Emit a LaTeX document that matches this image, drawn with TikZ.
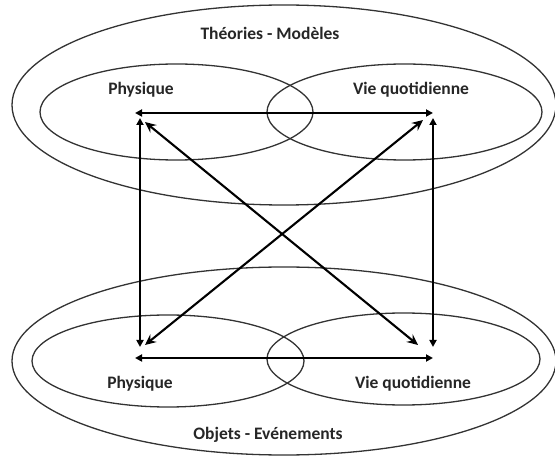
\documentclass[tikz,border=0pt]{standalone}
\usepackage{fontspec}
\setmainfont{Carlito}
\usetikzlibrary{arrows.meta}
\begin{document}
\begin{tikzpicture}[x=1pt,y=-1pt,
  ring/.style={draw=black!80,line width=1.3pt},
  lbl/.style={font=\bfseries\fontsize{17.5}{20}\selectfont,text=black!85,inner sep=0pt},
  straightarrow/.style={line width=2.1pt,{Triangle[length=7pt,width=7pt]}-{Triangle[length=7pt,width=7pt]}},
  crossarrow/.style={line width=2.1pt,{Stealth[length=11pt,width=10pt,inset=4pt]}-{Stealth[length=11pt,width=10pt,inset=4pt]}}]
\useasboundingbox (0,0) rectangle (555,457);
% ellipses
\draw[ring] (284,105) ellipse [x radius=272, y radius=100];
\draw[ring] (176.5,112) ellipse [x radius=136.5, y radius=48];
\draw[ring] (404.5,112) ellipse [x radius=137.5, y radius=48];
\draw[ring] (284,361) ellipse [x radius=272, y radius=94];
\draw[ring] (168,361) ellipse [x radius=136, y radius=46];
\draw[ring] (403.5,359) ellipse [x radius=136.5, y radius=46];
% labels
\node[lbl] (tm) at (270,33) {Théories - Modèles};
\node[lbl] (tp) at (141,90) {Physique};
\node[lbl] (tv) at (411,90) {Vie quotidienne};
\node[lbl] (bp) at (140,384) {Physique};
\node[lbl] (bv) at (413,384) {Vie quotidienne};
\node[lbl] (oe) at (268,435) {Objets - Evénements};
% arrow ends
\coordinate (htl) at (135,113);
\coordinate (htr) at (433,113);
\coordinate (vtl) at (140,118);
\coordinate (vbl) at (140,347);
\coordinate (vtr) at (433,118);
\coordinate (vbr) at (433,347);
\coordinate (dtl) at (145,122);
\coordinate (dbr) at (418,345);
\coordinate (dtr) at (423,120);
\coordinate (dbl) at (145,345);
\coordinate (hbl) at (135,358);
\coordinate (hbr) at (433,358);
% arrows
\draw[straightarrow] (htl) -- (htr);
\draw[straightarrow] (vtl) -- (vbl);
\draw[straightarrow] (vtr) -- (vbr);
\draw[straightarrow] (hbl) -- (hbr);
\draw[crossarrow] (dtl) -- (dbr);
\draw[crossarrow] (dtr) -- (dbl);
\end{tikzpicture}
\end{document}
